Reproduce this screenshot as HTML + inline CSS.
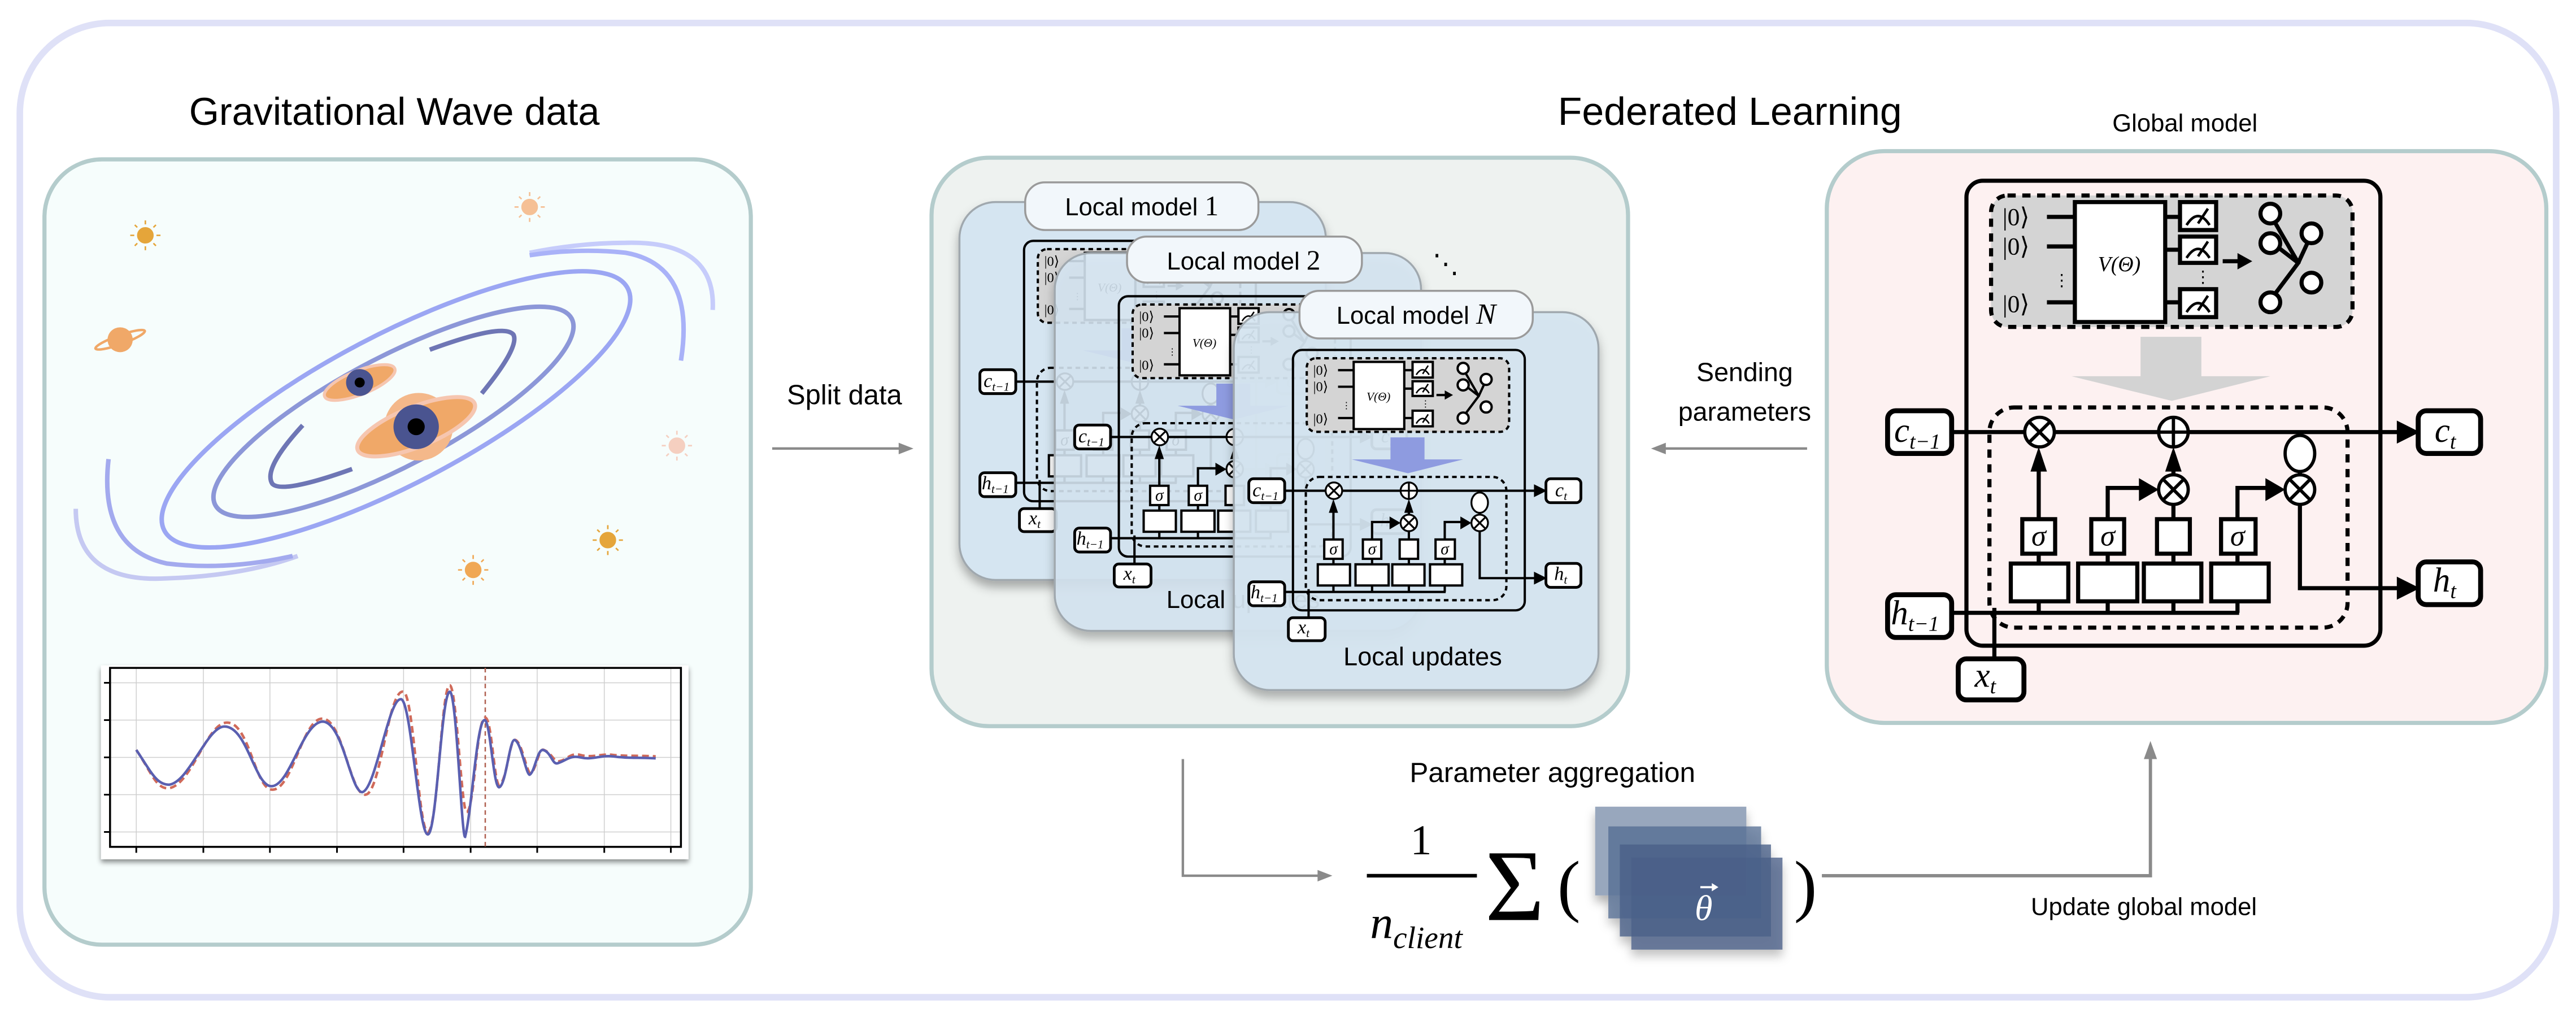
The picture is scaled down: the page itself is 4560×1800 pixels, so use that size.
<!DOCTYPE html>
<html><head><meta charset="utf-8"><style>
html,body{margin:0;padding:0;background:#fff;}
svg{display:block;}
.m{font-family:"Liberation Serif",serif;font-style:italic;}
</style></head><body>
<svg width="4560" height="1800" viewBox="0 0 1568 619" xmlns="http://www.w3.org/2000/svg" font-family="Liberation Sans, sans-serif">
<defs>
<filter id="sh" x="-20%" y="-20%" width="140%" height="160%"><feDropShadow dx="0" dy="6" stdDeviation="5" flood-color="#000" flood-opacity="0.45"/></filter>
<filter id="sh2" x="-20%" y="-20%" width="140%" height="160%"><feDropShadow dx="0" dy="4" stdDeviation="3" flood-color="#000" flood-opacity="0.3"/></filter>
<g id="lstm" stroke="#000" stroke-width="2.5">
 <rect x="1197" y="110" width="252" height="283" rx="10" fill="none"/>
 <rect x="1212" y="119" width="220" height="80" rx="10" fill="#d4d4d4" stroke-dasharray="5 4"/>
 <path d="M1246 132H1263M1246 150H1263M1246 184H1263M1318 132H1327M1318 152H1327M1318 184H1327M1353 159H1363" fill="none"/>
 <rect x="1263" y="123" width="55" height="73" fill="#fff"/>
 <rect x="1327" y="123" width="22" height="17" fill="#fff"/>
 <rect x="1327" y="144" width="22" height="16" fill="#fff"/>
 <rect x="1327" y="176" width="22" height="17" fill="#fff"/>
 <g stroke="none" fill="#000" font-family="Liberation Serif, serif" font-size="15">
  <text x="1219" y="137">|0⟩</text><text x="1219" y="155">|0⟩</text><text x="1219" y="190">|0⟩</text>
  <text x="1250" y="174" font-size="10">⋮</text><text x="1336" y="172" font-size="10">⋮</text>
  <text x="1290" y="165" font-size="13" text-anchor="middle" font-style="italic">V(Θ)</text>
 </g>
 <path d="M1331 137Q1338 126 1345 137M1338 136L1344 127M1331 157Q1338 146 1345 157M1338 156L1344 147M1331 190Q1338 179 1345 190M1338 189L1344 180" fill="none" stroke-width="1.6"/>
 <polygon points="1362,154 1371,159 1362,164" fill="#000" stroke="none"/>
 <path d="M1384 134L1399 160L1384 180M1386 150L1399 160M1399 160L1405 147" fill="none"/>
 <circle cx="1382" cy="130" r="6" fill="#fff"/><circle cx="1382" cy="148" r="6" fill="#fff"/><circle cx="1382" cy="184" r="6" fill="#fff"/>
 <circle cx="1407" cy="142" r="6" fill="#fff"/><circle cx="1407" cy="172" r="6" fill="#fff"/>
 <polygon points="1303,205 1340,205 1340,229 1382,229 1322,244 1261,229 1303,229" style="fill:var(--arr)" stroke="none"/>
 <rect x="1211" y="248" width="218" height="134" rx="15" fill="none" stroke-dasharray="5 4"/>
 <path d="M1188 263H1462M1241 316V285M1283 316V297H1305M1323 316V307M1323 289V283M1362 316V297H1382M1400 263V265M1400 287V289M1400 307V358H1462M1241 337V343M1283 337V343M1323 337V343M1362 337V343M1241 366V373M1283 366V373M1323 366V373M1362 366V373M1188 373H1363M1214 401V370" fill="none"/>
 <g fill="#000" stroke="none">
  <polygon points="1459,256 1473,263 1459,270"/><polygon points="1459,351 1473,358 1459,365"/>
  <polygon points="1236,287 1241,272 1246,287"/><polygon points="1318,287 1323,272 1328,287"/>
  <polygon points="1302,291 1314,298 1302,305"/><polygon points="1379,291 1391,298 1379,305"/>
 </g>
 <g fill="#fff" stroke-width="2">
  <circle cx="1241.5" cy="263" r="9"/><circle cx="1323" cy="263" r="9"/><circle cx="1323" cy="298" r="9"/><circle cx="1400" cy="298" r="9"/>
  <ellipse cx="1400" cy="276" rx="9" ry="11"/>
 </g>
 <path d="M1235 256.6L1248 269.4M1248 256.6L1235 269.4M1323 254V272M1314 263H1332M1316.6 291.6L1329.4 304.4M1329.4 291.6L1316.6 304.4M1393.6 291.6L1406.4 304.4M1406.4 291.6L1393.6 304.4" stroke-width="2"/>
 <g fill="#fff">
  <rect x="1231" y="316" width="20" height="21"/><rect x="1273" y="316" width="20" height="21"/><rect x="1313" y="316" width="20" height="21"/><rect x="1352" y="316" width="21" height="21"/>
  <rect x="1224" y="343" width="35" height="23"/><rect x="1265" y="343" width="36" height="23"/><rect x="1305" y="343" width="35" height="23"/><rect x="1346" y="343" width="35" height="23"/>
 </g>
 <g stroke="none" fill="#000" font-family="Liberation Serif, serif" font-style="italic" font-size="18" text-anchor="middle">
  <text x="1241" y="332">σ</text><text x="1283" y="332">σ</text><text x="1362" y="332">σ</text>
 </g>
 <g fill="#fff" stroke-width="3">
  <rect x="1149" y="250" width="39" height="26" rx="5"/><rect x="1472" y="250" width="38" height="26" rx="5"/>
  <rect x="1149" y="362" width="39" height="26" rx="5"/><rect x="1472" y="342" width="38" height="26" rx="5"/>
  <rect x="1192" y="401" width="40" height="25" rx="5"/>
 </g>
 <g stroke="none" fill="#000" font-family="Liberation Serif, serif" font-style="italic" font-size="21">
  <text x="1153" y="269">c<tspan font-size="13" dy="4">t−1</tspan></text>
  <text x="1482" y="269">c<tspan font-size="13" dy="4">t</tspan></text>
  <text x="1151" y="380">h<tspan font-size="13" dy="4">t−1</tspan></text>
  <text x="1481" y="360">h<tspan font-size="13" dy="4">t</tspan></text>
  <text x="1202" y="418">x<tspan font-size="13" dy="4">t</tspan></text>
 </g>
</g>
</defs>

<rect x="12" y="14" width="1544" height="593" rx="55" fill="#fff" stroke="#dfe1f7" stroke-width="4"/>
<text x="240" y="76" font-size="23.5" text-anchor="middle">Gravitational Wave data</text>
<text x="1053" y="76" font-size="24" text-anchor="middle">Federated Learning</text>

<!-- left panel -->
<rect x="27" y="97" width="430" height="478" rx="35" fill="#f6fdfc" stroke="#b4cccc" stroke-width="2.5"/>
<g transform="matrix(0.307 0 0 0.3026 0 91.8)">
 <g fill="none" stroke-linecap="butt" stroke-width="9">
  <path d="M150,720 Q150,870 330,860 Q480,855 590,815" stroke="#c5c9f2"/>
  <path d="M215,620 Q195,800 330,830 Q450,845 580,815" stroke="#a3aaee"/>
  <path d="M1413,320 Q1420,180 1240,185 Q1150,185 1050,205" stroke="#c6ccfb"/>
  <path d="M1350,422 Q1380,230 1240,205 Q1150,195 1050,210" stroke="#a9b2f8"/>
  <ellipse cx="785" cy="520" rx="520" ry="150" transform="rotate(-28 785 520)" stroke="#9ba6f3"/>
  <ellipse cx="780" cy="525" rx="400" ry="110" transform="rotate(-28 780 525)" stroke="#8c97d8"/>
  <path d="M600,552 Q520,640 540,670 Q560,690 698,640" stroke="#6e76b5"/>
  <path d="M852,400 Q1000,345 1018,370 Q1030,395 955,488" stroke="#6e76b5"/>
 </g>
 <ellipse cx="713" cy="466" rx="75" ry="24" transform="rotate(-22 713 466)" fill="#f0a868" stroke="#f6c6b0" stroke-width="6"/>
 <circle cx="713" cy="466" r="27" fill="#4a5490"/><circle cx="713" cy="466" r="10" fill="#000"/>
 <circle cx="830" cy="555" r="68" fill="#f4b88a"/>
 <ellipse cx="825" cy="555" rx="125" ry="40" transform="rotate(-22 825 555)" fill="#f0a868" stroke="#f6c6b0" stroke-width="8"/>
 <circle cx="825" cy="555" r="45" fill="#4a5490"/><circle cx="825" cy="555" r="17" fill="#000"/>
 <g stroke-width="3">
  <g fill="#e5a53a" stroke="#e5a53a"><circle cx="288" cy="170" r="15"/><path d="M288,140V148M288,192V200M258,170H266M310,170H318M267,149L272,154M304,186L309,191M267,191L272,186M304,154L309,149"/></g>
  <g fill="#f5c095" stroke="#f5c095"><circle cx="1050" cy="113" r="15"/><path d="M1050,83V91M1050,135V143M1020,113H1028M1072,113H1080M1029,92L1034,97M1066,129L1071,134M1029,134L1034,129M1066,97L1071,92"/></g>
  <g fill="#f5cfc0" stroke="#f5cfc0"><circle cx="1342" cy="593" r="15"/><path d="M1342,563V571M1342,615V623M1312,593H1320M1364,593H1372M1321,572L1326,577M1358,609L1363,614M1321,614L1326,609M1358,577L1363,572"/></g>
  <g fill="#e5a53a" stroke="#e5a53a"><circle cx="1205" cy="783" r="15"/><path d="M1205,753V761M1205,805V813M1175,783H1183M1227,783H1235M1184,762L1189,767M1221,799L1226,804M1184,804L1189,799M1221,767L1226,762"/></g>
  <g fill="#f0a855" stroke="#f0a855"><circle cx="938" cy="843" r="15"/><path d="M938,813V821M938,865V873M908,843H916M960,843H968M917,822L922,827M954,859L959,864M917,864L922,859M954,827L959,822"/></g>
 </g>
 <circle cx="238" cy="380" r="25" fill="#f0a868"/>
 <ellipse cx="238" cy="380" rx="52" ry="9" transform="rotate(-20 238 380)" fill="none" stroke="#f0a868" stroke-width="5"/>
 <!-- plot -->
 <rect x="200" y="1035" width="1165" height="390" fill="#fff" filter="url(#sh)"/>
 <path d="M270 1040V1400M403 1040V1400M535 1040V1400M668 1040V1400M800 1040V1400M933 1040V1400M1065 1040V1400M1198 1040V1400M1330 1040V1400M218 1070H1350M218 1145H1350M218 1220H1350M218 1295H1350M218 1370H1350" fill="none" stroke="#cfcfcf" stroke-width="1.5" vector-effect="non-scaling-stroke"/>
 <rect x="218" y="1040" width="1132" height="360" fill="none" stroke="#000" stroke-width="3.5" vector-effect="non-scaling-stroke"/>
 <path d="M270 1400V1412M403 1400V1412M535 1400V1412M668 1400V1412M800 1400V1412M933 1400V1412M1065 1400V1412M1198 1400V1412M1330 1400V1412M206 1070H218M206 1145H218M206 1220H218M206 1295H218M206 1370H218" stroke="#000" stroke-width="3" vector-effect="non-scaling-stroke"/>
 <path d="M962 1040V1400" stroke="#b06050" stroke-width="2.5" stroke-dasharray="8 6" vector-effect="non-scaling-stroke"/>
 <path d="M270,1205 C300,1250 310,1285 335,1282 C380,1275 410,1150 450,1150 C495,1150 505,1285 540,1285 C580,1285 600,1140 640,1142 C680,1145 695,1300 725,1295 C755,1290 770,1080 800,1088 C820,1095 830,1370 848,1370 C868,1370 875,1070 892,1075 C905,1080 915,1330 925,1330 C940,1330 945,1140 962,1140 C975,1140 980,1280 990,1275 C1005,1270 1010,1180 1022,1185 C1035,1190 1045,1255 1052,1252 C1062,1248 1068,1200 1078,1205 C1095,1212 1098,1230 1108,1228 C1125,1225 1130,1210 1150,1215 C1175,1222 1190,1212 1215,1215 C1240,1218 1270,1216 1300,1218" fill="none" stroke="#d06a5a" stroke-width="4.5" stroke-dasharray="12 7" vector-effect="non-scaling-stroke"/>
 <path d="M270,1205 C300,1250 310,1275 335,1275 C375,1270 410,1158 445,1158 C490,1158 505,1278 538,1278 C575,1278 600,1148 640,1148 C680,1150 695,1290 718,1290 C745,1285 770,1100 795,1103 C815,1105 830,1375 848,1375 C866,1375 875,1085 892,1088 C905,1092 915,1380 922,1380 C935,1330 945,1150 960,1145 C972,1140 978,1285 990,1280 C1003,1275 1010,1185 1020,1185 C1033,1188 1043,1255 1050,1255 C1060,1250 1065,1205 1076,1205 C1092,1208 1095,1235 1105,1232 C1120,1228 1130,1215 1150,1220 C1175,1226 1190,1215 1215,1218 C1240,1222 1270,1220 1300,1222" fill="none" stroke="#5a5fb0" stroke-width="4.5" vector-effect="non-scaling-stroke"/>
</g>

<!-- split data -->
<text x="514" y="246" font-size="16.8" text-anchor="middle">Split data</text>
<path d="M470 273H548" stroke="#8a8a8a" stroke-width="1.5"/><polygon points="547,269.5 556,273 547,276.5" fill="#8a8a8a"/>

<!-- middle panel -->
<rect x="567" y="96" width="424" height="346" rx="35" fill="#eef2f0" stroke="#b4cccc" stroke-width="2.5"/>
<rect x="584" y="123" width="223" height="230" rx="22" fill="#d5e5f1" stroke="#a0a8ae" stroke-width="1.2" filter="url(#sh2)"/>
<use href="#lstm" transform="translate(-47 85) scale(0.56)" style="--arr:#8e9be0"/>
<rect x="624" y="111" width="142" height="29" rx="12" fill="#f2f7fb" stroke="#9a9a9a" stroke-width="1.2"/>
<text x="695" y="131" font-size="15" text-anchor="middle">Local model <tspan font-family="Liberation Serif, serif" font-size="17">1</tspan></text>
<rect x="642" y="154" width="223" height="230" rx="22" fill="#d5e5f1" fill-opacity="0.88" stroke="#a0a8ae" stroke-width="1.2" filter="url(#sh2)"/>
<use href="#lstm" transform="translate(10.7 118.7) scale(0.56)" style="--arr:#8e9be0"/>
<text x="710" y="370" font-size="15">Local updates</text>
<rect x="686" y="144" width="143" height="28" rx="12" fill="#f2f7fb" stroke="#9a9a9a" stroke-width="1.2"/>
<text x="757" y="164" font-size="15" text-anchor="middle">Local model <tspan font-family="Liberation Serif, serif" font-size="17">2</tspan></text>
<text x="872" y="166" font-size="16">⋱</text>
<rect x="751" y="190" width="222" height="230" rx="22" fill="#d5e5f1" fill-opacity="0.93" stroke="#a0a8ae" stroke-width="1.2" filter="url(#sh2)"/>
<use href="#lstm" transform="translate(116.7 151.4) scale(0.56)" style="--arr:#8e9be0"/>
<rect x="791" y="177" width="142" height="29" rx="12" fill="#f2f7fb" stroke="#9a9a9a" stroke-width="1.2"/>
<text x="862" y="197" font-size="15" text-anchor="middle">Local model <tspan font-family="Liberation Serif, serif" font-style="italic" font-size="18">N</tspan></text>
<text x="866" y="405" font-size="15.5" text-anchor="middle">Local updates</text>

<!-- sending parameters -->
<text x="1062" y="232" font-size="16" text-anchor="middle">Sending</text>
<text x="1062" y="256" font-size="16" text-anchor="middle">parameters</text>
<path d="M1100 273H1013" stroke="#8a8a8a" stroke-width="1.5"/><polygon points="1014,269.5 1005,273 1014,276.5" fill="#8a8a8a"/>

<!-- global panel -->
<text x="1330" y="80" font-size="15" text-anchor="middle">Global model</text>
<rect x="1112" y="92" width="438" height="348" rx="35" fill="#fdf1f1" stroke="#b4cccc" stroke-width="2.5"/>
<use href="#lstm" style="--arr:#d3d3d3"/>

<!-- aggregation -->
<text x="945" y="476" font-size="17" text-anchor="middle">Parameter aggregation</text>
<path d="M720 462V533H803" fill="none" stroke="#8a8a8a" stroke-width="1.5"/><polygon points="802,529.5 811,533 802,536.5" fill="#8a8a8a"/>
<text x="865" y="520" font-size="26" font-family="Liberation Serif, serif" text-anchor="middle">1</text>
<path d="M832 533H899" stroke="#000" stroke-width="2.2"/>
<text x="834" y="571" class="m" font-size="28">n<tspan font-size="19" dy="6">client</tspan></text>
<text x="904" y="560" font-size="62" font-family="Liberation Serif, serif">Σ</text>
<text x="948" y="553" font-size="42" font-family="Liberation Serif, serif">(</text>
<text x="1092" y="553" font-size="42" font-family="Liberation Serif, serif">)</text>
<g filter="url(#sh2)">
<rect x="971" y="491" width="92" height="54" fill="#98a7bd"/>
<rect x="979" y="503" width="93" height="56" fill="#536b91" fill-opacity="0.75"/>
<rect x="986" y="514" width="92" height="56" fill="#4a6088" fill-opacity="0.8"/>
<rect x="993" y="522" width="92" height="56" fill="#4a6088" fill-opacity="0.78"/>
</g>
<text x="1037" y="560" class="m" font-size="22" fill="#fff" text-anchor="middle">θ</text>
<path d="M1035 540H1043" stroke="#fff" stroke-width="1.3"/><polygon points="1042,537.5 1046,540 1042,542.5" fill="#fff"/>
<path d="M1109 533H1309V461" fill="none" stroke="#8a8a8a" stroke-width="2"/><polygon points="1305,462 1309,451 1313,462" fill="#8a8a8a"/>
<text x="1305" y="557" font-size="15" text-anchor="middle">Update global model</text>
</svg>
</body></html>
